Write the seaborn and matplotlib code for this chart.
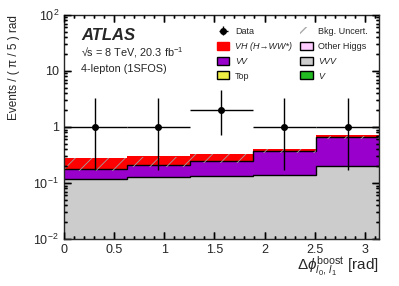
import numpy as np
import pandas as pd
import seaborn as sns
import matplotlib.pyplot as plt
from matplotlib.patches import Patch
from matplotlib.ticker import FixedLocator, FixedFormatter, MultipleLocator, LogLocator

# binning: 5 bins of pi/5
edges = np.linspace(0, np.pi, 6)
centers = 0.5 * (edges[:-1] + edges[1:])

# stacked backgrounds (events per bin)
vvv = [0.119, 0.128, 0.133, 0.141, 0.199]
vv = [0.061, 0.084, 0.117, 0.227, 0.464]
vh = [0.099, 0.088, 0.080, 0.042, 0.047]

# background uncertainty band
unc_lo = [0.165, 0.195, 0.230, 0.345, 0.620]
unc_hi = [0.275, 0.295, 0.325, 0.405, 0.700]

# data
data = [1, 1, 2, 1, 1]
data_err_lo = [0.83, 0.83, 1.29, 0.83, 0.83]
data_err_hi = [2.30, 2.30, 2.64, 2.30, 2.30]

colors = {"VH": "#ff0000", "VV": "#9900cc", "VVV": "#cccccc",
          "Other Higgs": "#ffccff", "Top": "#eeee44", "V": "#22bb22"}

sns.set_style("ticks")
plt.rcParams['font.family'] = ['Liberation Sans', 'DejaVu Sans']
plt.rcParams['mathtext.fontset'] = 'custom'
plt.rcParams['mathtext.rm'] = 'Liberation Sans'
plt.rcParams['mathtext.it'] = 'Liberation Sans:italic'
plt.rcParams['mathtext.bf'] = 'Liberation Sans:bold'

df = pd.DataFrame({
    "x": np.tile(centers, 3),
    "w": vh + vv + vvv,
    "proc": ["VH"] * 5 + ["VV"] * 5 + ["VVV"] * 5,
})

fig = plt.figure(figsize=(3.99, 2.86), dpi=100)
ax = fig.add_axes([0.160, 0.164, 0.790, 0.784])
ax.set_axisbelow(False)

sns.histplot(data=df, x="x", weights="w", hue="proc", hue_order=["VH", "VV", "VVV"],
             multiple="stack", bins=list(edges), element="step", fill=True, alpha=1,
             palette=colors, linewidth=0, legend=False, ax=ax)

ax.set_yscale('log')

tot_bkg = np.array(vvv) + np.array(vv)
ax.stairs(vvv, edges, color='black', lw=1.0, baseline=None)
ax.stairs(tot_bkg, edges, color='black', lw=1.0, baseline=None)
band = ax.stairs(unc_hi, edges, baseline=unc_lo, fill=True, facecolor='none',
                 edgecolor='#a0a0a0', hatch='//', lw=0)
if hasattr(band, 'set_hatch_linewidth'):
    band.set_hatch_linewidth(0.6)

data_h = ax.errorbar(centers, data, xerr=(edges[1] - edges[0]) / 2,
                     yerr=[data_err_lo, data_err_hi], fmt='o', color='black',
                     ms=4, lw=1, capsize=0)

ax.set_xlim(0, np.pi)
ax.set_ylim(1e-2, 1e2)

ax.xaxis.set_major_locator(MultipleLocator(0.5))
ax.xaxis.set_minor_locator(MultipleLocator(0.1))
ax.yaxis.set_major_locator(FixedLocator([1e-2, 1e-1, 1, 10, 1e2]))
ax.yaxis.set_major_formatter(FixedFormatter(['$10^{-2}$', '$10^{-1}$', '1', '10', '$10^{2}$']))
ax.yaxis.set_minor_locator(LogLocator(base=10, subs=np.arange(2, 10)))
ax.xaxis.set_major_formatter(plt.FuncFormatter(lambda v, p: f"{v:g}"))

ax.tick_params(which='both', direction='in', top=True, right=True, bottom=True, left=True,
               labelsize=9, width=1.0, color='black')
ax.tick_params(which='major', length=5)
ax.tick_params(which='minor', length=2.5)
for s in ax.spines.values():
    s.set_linewidth(1.0)
    s.set_zorder(5)

# tick marks also drawn as segments at the locator positions
xmaj = [v for v in ax.xaxis.get_majorticklocs() if 0 <= v <= np.pi]
xmin = [v for v in ax.xaxis.get_minorticklocs() if 0 <= v <= np.pi]
ymaj = [v for v in ax.yaxis.get_majorticklocs() if 1e-2 <= v <= 1e2]
ymin = [v for v in ax.yaxis.get_minorticklocs() if 1e-2 <= v <= 1e2]
xt = ax.get_xaxis_transform()
yt = ax.get_yaxis_transform()
for locs, ln in ((xmaj, 0.031), (xmin, 0.0155)):
    ax.vlines(locs, 0, ln, transform=xt, color='black', lw=1.0, zorder=6)
    ax.vlines(locs, 1 - ln, 1, transform=xt, color='black', lw=1.0, zorder=6)
for locs, ln in ((ymaj, 0.022), (ymin, 0.011)):
    ax.hlines(locs, 0, ln, transform=yt, color='black', lw=1.0, zorder=6)
    ax.hlines(locs, 1 - ln, 1, transform=yt, color='black', lw=1.0, zorder=6)

ax.set_ylabel('Events / ( π / 5 ) rad', fontsize=8.5, loc='top')
ax.set_xlabel(r'$\mathit{\Delta\phi}^{\mathrm{boost}}_{l_{0},\,l_{1}}$ [rad]', fontsize=11, loc='right')
ax.yaxis.set_label_coords(-0.138, 1.0)
ax.xaxis.set_label_coords(1.0, -0.07)

ax.text(0.054, 0.89, 'ATLAS', transform=ax.transAxes, fontsize=12,
        fontweight='bold', style='italic')
ax.text(0.054, 0.815, '√s = 8 TeV, 20.3 fb$^{-1}$', transform=ax.transAxes, fontsize=7.8)
ax.text(0.054, 0.745, '4-lepton (1SFOS)', transform=ax.transAxes, fontsize=7.8)

handles = [
    data_h,
    Patch(facecolor=colors["VH"], edgecolor=colors["VH"]),
    Patch(facecolor=colors["VV"], edgecolor='black'),
    Patch(facecolor=colors["Top"], edgecolor='black'),
    Patch(facecolor='none', edgecolor='#aaaaaa', hatch='//', lw=0),
    Patch(facecolor=colors["Other Higgs"], edgecolor='black'),
    Patch(facecolor=colors["VVV"], edgecolor='black'),
    Patch(facecolor=colors["V"], edgecolor='black'),
]
labels = ['Data', 'VH (H→WW*)', 'VV', 'Top',
          'Bkg. Uncert.', 'Other Higgs', 'VVV', 'V']
leg = ax.legend(handles, labels, ncol=2, frameon=False, fontsize=6.5,
                loc='upper left', bbox_to_anchor=(0.485, 0.945), borderpad=0,
                borderaxespad=0, handlelength=1.4, handleheight=1.0,
                columnspacing=0.9, labelspacing=0.62, handletextpad=0.6)
for i in (1, 2, 6, 7):
    leg.get_texts()[i].set_style('italic')

fig.savefig('out.png', dpi=100)
